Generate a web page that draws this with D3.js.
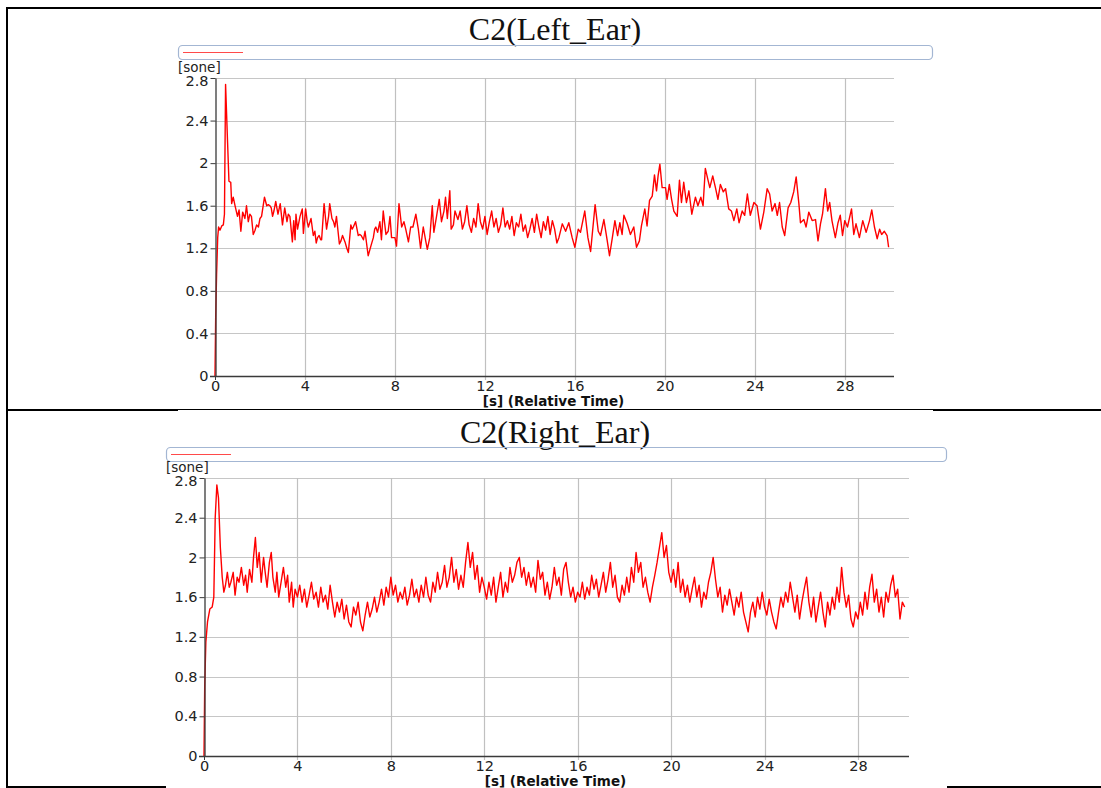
<!DOCTYPE html>
<html>
<head>
<meta charset="utf-8">
<script src="https://cdn.jsdelivr.net/npm/d3@7"></script>
<style>
  body { margin: 0; background: #fff; }
  text { font-family: "DejaVu Sans", Verdana, sans-serif; }
</style>
</head>
<body>
<div id="chart"></div>
<script>
// Tick values shared by both panels
const xTicks = [0, 4, 8, 12, 16, 20, 24, 28];
const yTicks = [0, 0.4, 0.8, 1.2, 1.6, 2, 2.4, 2.8];

// Loudness over time, [seconds, sone]
const leftEar = [
  [0,0],[0.03,0.55],[0.07,0.95],[0.12,1.3],[0.16,1.4],[0.22,1.37],[0.3,1.41],[0.37,1.42],[0.42,1.52],[0.47,2.74],
  [0.56,2.19],[0.62,1.83],[0.7,1.82],[0.74,1.62],[0.81,1.68],[0.89,1.6],[1.0,1.5],[1.07,1.56],[1.15,1.36],[1.23,1.54],
  [1.33,1.48],[1.4,1.6],[1.48,1.45],[1.55,1.52],[1.62,1.5],[1.7,1.33],[1.78,1.37],[1.85,1.42],[1.93,1.4],[2.0,1.48],
  [2.07,1.5],[2.2,1.68],[2.3,1.6],[2.37,1.61],[2.44,1.6],[2.5,1.58],[2.56,1.5],[2.62,1.55],[2.7,1.64],[2.75,1.58],
  [2.8,1.52],[2.9,1.62],[3.0,1.42],[3.1,1.58],[3.2,1.45],[3.26,1.52],[3.33,1.5],[3.44,1.26],[3.5,1.46],[3.56,1.28],
  [3.6,1.52],[3.67,1.38],[3.78,1.5],[3.88,1.57],[3.93,1.34],[4.03,1.57],[4.1,1.45],[4.15,1.4],[4.27,1.48],[4.37,1.32],
  [4.44,1.36],[4.5,1.25],[4.56,1.3],[4.63,1.32],[4.7,1.28],[4.74,1.28],[4.85,1.62],[4.96,1.38],[5.05,1.5],[5.1,1.62],
  [5.2,1.48],[5.27,1.45],[5.33,1.4],[5.4,1.5],[5.53,1.24],[5.6,1.27],[5.67,1.32],[5.78,1.26],[5.86,1.2],[5.93,1.16],
  [6.04,1.42],[6.1,1.38],[6.15,1.4],[6.25,1.45],[6.37,1.32],[6.43,1.33],[6.5,1.32],[6.6,1.28],[6.67,1.36],[6.81,1.13],
  [6.93,1.22],[7.04,1.3],[7.1,1.38],[7.15,1.4],[7.23,1.35],[7.33,1.45],[7.4,1.28],[7.48,1.55],[7.6,1.33],[7.7,1.36],
  [7.78,1.5],[7.85,1.3],[8.0,1.3],[8.07,1.22],[8.18,1.62],[8.3,1.4],[8.4,1.45],[8.48,1.38],[8.6,1.26],[8.7,1.4],
  [8.8,1.4],[8.93,1.52],[9.04,1.38],[9.14,1.2],[9.26,1.4],[9.36,1.28],[9.44,1.19],[9.55,1.3],[9.66,1.6],[9.73,1.35],
  [9.85,1.5],[9.97,1.66],[10.07,1.45],[10.18,1.55],[10.25,1.68],[10.33,1.48],[10.44,1.74],[10.5,1.38],[10.6,1.42],[10.67,1.55],
  [10.8,1.47],[10.9,1.55],[11.0,1.38],[11.1,1.45],[11.2,1.6],[11.3,1.42],[11.4,1.35],[11.5,1.48],[11.6,1.4],[11.7,1.62],
  [11.8,1.45],[11.9,1.38],[12.0,1.5],[12.1,1.33],[12.2,1.45],[12.3,1.55],[12.4,1.4],[12.5,1.48],[12.6,1.35],[12.7,1.42],
  [12.8,1.58],[12.9,1.4],[13.0,1.46],[13.1,1.38],[13.2,1.5],[13.3,1.32],[13.4,1.44],[13.5,1.4],[13.6,1.52],[13.7,1.36],
  [13.8,1.42],[13.9,1.3],[14.0,1.38],[14.1,1.48],[14.2,1.35],[14.3,1.52],[14.4,1.4],[14.5,1.3],[14.6,1.45],[14.7,1.37],
  [14.8,1.5],[14.9,1.33],[15.0,1.46],[15.1,1.38],[15.2,1.25],[15.29,1.3],[15.44,1.43],[15.59,1.36],[15.73,1.44],[15.88,1.3],
  [16.0,1.21],[16.15,1.38],[16.25,1.35],[16.44,1.55],[16.58,1.3],[16.7,1.17],[16.9,1.61],[17.04,1.36],[17.14,1.32],[17.29,1.47],
  [17.44,1.27],[17.54,1.13],[17.66,1.29],[17.78,1.46],[17.9,1.32],[18.0,1.44],[18.1,1.33],[18.18,1.51],[18.33,1.43],[18.47,1.33],
  [18.62,1.4],[18.74,1.21],[18.87,1.27],[18.96,1.41],[19.11,1.57],[19.21,1.41],[19.32,1.65],[19.44,1.69],[19.54,1.89],[19.63,1.74],
  [19.7,1.88],[19.78,1.99],[19.88,1.77],[20.03,1.77],[20.1,1.66],[20.2,1.8],[20.3,1.66],[20.4,1.55],[20.55,1.5],[20.65,1.84],
  [20.74,1.63],[20.84,1.82],[20.96,1.63],[21.07,1.74],[21.2,1.52],[21.36,1.68],[21.47,1.6],[21.6,1.68],[21.7,1.6],[21.8,1.95],
  [21.92,1.84],[22.0,1.77],[22.13,1.88],[22.25,1.77],[22.36,1.66],[22.47,1.8],[22.6,1.73],[22.7,1.76],[22.84,1.57],[22.96,1.55],
  [23.07,1.46],[23.2,1.57],[23.3,1.44],[23.44,1.55],[23.55,1.51],[23.67,1.71],[23.8,1.51],[23.96,1.63],[24.1,1.6],[24.25,1.38],
  [24.4,1.54],[24.55,1.76],[24.66,1.71],[24.77,1.55],[24.9,1.62],[25.0,1.51],[25.1,1.63],[25.22,1.4],[25.33,1.32],[25.48,1.58],
  [25.6,1.63],[25.73,1.73],[25.84,1.87],[25.96,1.62],[26.03,1.44],[26.18,1.47],[26.28,1.4],[26.4,1.54],[26.55,1.46],[26.7,1.47],
  [26.81,1.27],[26.92,1.43],[27.01,1.52],[27.14,1.76],[27.24,1.55],[27.33,1.63],[27.43,1.46],[27.58,1.3],[27.7,1.44],[27.8,1.51],
  [27.9,1.32],[28.0,1.46],[28.12,1.4],[28.3,1.57],[28.4,1.33],[28.5,1.43],[28.65,1.3],[28.8,1.46],[28.95,1.35],[29.1,1.46],
  [29.2,1.56],[29.32,1.4],[29.44,1.29],[29.55,1.38],[29.64,1.33],[29.76,1.36],[29.88,1.32],[29.95,1.21]
];

const rightEar = [
  [0,0],[0.03,0.7],[0.08,1.15],[0.15,1.35],[0.25,1.48],[0.35,1.5],[0.42,1.6],[0.48,2.4],[0.55,2.73],[0.62,2.6],
  [0.7,2.1],[0.78,1.8],[0.85,1.65],[0.92,1.72],[1.0,1.85],[1.08,1.7],[1.15,1.75],[1.25,1.85],[1.33,1.62],[1.42,1.8],
  [1.5,1.75],[1.6,1.9],[1.7,1.72],[1.78,1.82],[1.85,1.65],[1.95,1.88],[2.05,1.75],[2.12,2.0],[2.2,2.2],[2.28,1.9],
  [2.36,2.05],[2.45,1.75],[2.55,2.0],[2.62,1.85],[2.7,1.7],[2.8,1.95],[2.88,2.05],[2.95,1.8],[3.05,1.65],[3.12,1.85],
  [3.2,1.6],[3.3,1.75],[3.4,1.9],[3.5,1.7],[3.58,1.82],[3.65,1.55],[3.75,1.75],[3.82,1.5],[3.9,1.68],[4.0,1.6],
  [4.1,1.72],[4.2,1.55],[4.3,1.68],[4.4,1.5],[4.5,1.62],[4.6,1.75],[4.7,1.58],[4.8,1.65],[4.9,1.5],[5.0,1.7],
  [5.1,1.55],[5.2,1.62],[5.3,1.48],[5.4,1.72],[5.5,1.55],[5.6,1.4],[5.7,1.55],[5.8,1.45],[5.9,1.58],[6.0,1.38],
  [6.1,1.52],[6.2,1.35],[6.3,1.3],[6.4,1.5],[6.5,1.42],[6.6,1.55],[6.7,1.35],[6.8,1.26],[6.9,1.42],[7.0,1.55],
  [7.1,1.4],[7.2,1.48],[7.3,1.6],[7.4,1.45],[7.5,1.55],[7.6,1.68],[7.7,1.52],[7.8,1.7],[7.9,1.6],[8.0,1.8],
  [8.1,1.62],[8.2,1.72],[8.3,1.55],[8.4,1.65],[8.5,1.58],[8.6,1.7],[8.7,1.52],[8.8,1.62],[8.9,1.78],[9.0,1.6],
  [9.1,1.68],[9.2,1.55],[9.3,1.72],[9.4,1.6],[9.5,1.8],[9.6,1.62],[9.7,1.55],[9.8,1.75],[9.9,1.65],[10.0,1.85],
  [10.1,1.68],[10.2,1.75],[10.3,1.92],[10.4,1.7],[10.5,1.8],[10.6,2.0],[10.7,1.75],[10.8,1.88],[10.9,1.68],[11.0,1.82],
  [11.1,1.7],[11.2,1.95],[11.3,2.15],[11.4,1.9],[11.5,2.05],[11.6,1.78],[11.7,1.92],[11.8,1.65],[11.9,1.8],[12.0,1.7],
  [12.1,1.58],[12.2,1.75],[12.3,1.62],[12.4,1.8],[12.5,1.55],[12.6,1.7],[12.7,1.85],[12.8,1.6],[12.9,1.75],[13.0,1.65],
  [13.1,1.9],[13.2,1.75],[13.3,1.82],[13.4,1.95],[13.5,2.0],[13.6,1.8],[13.7,1.9],[13.8,1.72],[13.9,1.85],[14.0,1.7],
  [14.1,1.8],[14.2,1.65],[14.3,1.97],[14.4,1.78],[14.5,1.85],[14.6,1.62],[14.7,1.75],[14.8,1.58],[14.9,1.7],[15.0,1.9],
  [15.1,1.72],[15.2,1.8],[15.3,1.62],[15.4,1.88],[15.5,1.95],[15.6,1.75],[15.7,1.6],[15.8,1.7],[15.9,1.55],[16.0,1.65],
  [16.1,1.6],[16.2,1.75],[16.3,1.58],[16.4,1.7],[16.5,1.62],[16.6,1.82],[16.7,1.68],[16.8,1.78],[16.9,1.6],[17.0,1.72],
  [17.1,1.85],[17.2,1.65],[17.3,1.78],[17.4,1.95],[17.5,1.7],[17.6,1.82],[17.7,1.6],[17.8,1.55],[17.9,1.72],[18.0,1.62],
  [18.1,1.8],[18.2,1.65],[18.3,1.9],[18.4,1.75],[18.5,2.05],[18.6,1.85],[18.7,1.95],[18.8,1.7],[18.9,1.8],[19.0,1.65],
  [19.1,1.55],[19.2,1.7],[19.3,1.82],[19.4,1.95],[19.5,2.1],[19.6,2.25],[19.7,2.0],[19.8,2.12],[19.9,1.85],[20.0,1.75],
  [20.1,1.88],[20.2,1.7],[20.3,1.95],[20.4,1.65],[20.5,1.78],[20.6,1.6],[20.7,1.72],[20.8,1.55],[20.9,1.68],[21.0,1.8],
  [21.1,1.6],[21.2,1.72],[21.3,1.5],[21.4,1.65],[21.5,1.58],[21.6,1.75],[21.7,1.85],[21.8,2.0],[21.9,1.78],[22.0,1.6],
  [22.1,1.7],[22.2,1.45],[22.3,1.62],[22.4,1.52],[22.5,1.68],[22.6,1.55],[22.7,1.42],[22.8,1.6],[22.9,1.5],[23.0,1.65],
  [23.1,1.45],[23.2,1.35],[23.3,1.25],[23.4,1.45],[23.5,1.55],[23.6,1.4],[23.7,1.6],[23.8,1.48],[23.9,1.65],[24.0,1.5],
  [24.1,1.42],[24.2,1.58],[24.3,1.45],[24.4,1.35],[24.5,1.28],[24.6,1.45],[24.7,1.6],[24.8,1.5],[24.9,1.65],[25.0,1.55],
  [25.1,1.75],[25.2,1.6],[25.3,1.45],[25.4,1.62],[25.5,1.38],[25.6,1.55],[25.7,1.68],[25.8,1.8],[25.9,1.55],[26.0,1.4],
  [26.1,1.6],[26.2,1.35],[26.3,1.5],[26.4,1.65],[26.5,1.45],[26.6,1.3],[26.7,1.55],[26.8,1.42],[26.9,1.6],[27.0,1.48],
  [27.1,1.7],[27.2,1.55],[27.3,1.9],[27.4,1.65],[27.5,1.5],[27.6,1.62],[27.7,1.38],[27.8,1.3],[27.9,1.45],[28.0,1.38],
  [28.1,1.55],[28.2,1.42],[28.3,1.65],[28.4,1.48],[28.5,1.7],[28.6,1.83],[28.7,1.55],[28.8,1.68],[28.9,1.45],[29.0,1.6],
  [29.1,1.4],[29.2,1.65],[29.3,1.55],[29.4,1.72],[29.5,1.82],[29.6,1.6],[29.7,1.68],[29.8,1.38],[29.9,1.55],[30.0,1.5]
];

const W = 1101, H = 788;

const svg = d3.select("#chart")
  .append("svg")
  .attr("width", W)
  .attr("height", H);

// Table borders of the page the charts sit in
const border = svg.append("g").attr("fill", "#000");
border.append("rect").attr("x", 6).attr("y", 7).attr("width", W - 6).attr("height", 2);
border.append("rect").attr("x", 6).attr("y", 7).attr("width", 2).attr("height", H - 7);
border.append("rect").attr("x", 6).attr("y", 409).attr("width", 172).attr("height", 2);
border.append("rect").attr("x", 178).attr("y", 409).attr("width", 755).attr("height", 1);
border.append("rect").attr("x", 933).attr("y", 409).attr("width", W - 933).attr("height", 2);
border.append("rect").attr("x", 6).attr("y", 786).attr("width", 160).attr("height", 2);
border.append("rect").attr("x", 947).attr("y", 786).attr("width", W - 947).attr("height", 2);

function drawPanel(opt) {
  const g = svg.append("g");

  const x = d3.scaleLinear().domain([0, 30.1]).range([opt.left, opt.right]);
  const y = d3.scaleLinear().domain([0, 2.8]).range([opt.bottom, opt.top]);

  // Title
  g.append("text")
    .attr("x", 555)
    .attr("y", opt.titleY)
    .attr("text-anchor", "middle")
    .style("font-family", "'Liberation Serif', 'Times New Roman', serif")
    .style("font-size", "32px")
    .attr("fill", "#111")
    .text(opt.title);

  // Legend frame with the series swatch
  g.append("rect")
    .attr("x", opt.legend[0] + 0.5)
    .attr("y", opt.legend[1] + 0.5)
    .attr("width", opt.legend[2] - opt.legend[0])
    .attr("height", 14)
    .attr("rx", 4)
    .attr("fill", "none")
    .attr("stroke", "#a3b6d3")
    .attr("stroke-width", 1.2);

  g.append("line")
    .attr("x1", opt.legend[0] + 5)
    .attr("x2", opt.legend[0] + 65)
    .attr("y1", opt.legend[1] + 7.5)
    .attr("y2", opt.legend[1] + 7.5)
    .attr("stroke", "#ff4a4a")
    .attr("stroke-width", 1.2);

  // Unit label
  g.append("text")
    .attr("x", opt.legend[0])
    .attr("y", opt.top - 6)
    .style("font-size", "13.5px")
    .attr("fill", "#222")
    .text("[sone]");

  // Grid
  g.append("g")
    .selectAll("line")
    .data(yTicks.slice(1))
    .join("line")
    .attr("x1", opt.left)
    .attr("x2", opt.right + 2)
    .attr("y1", d => Math.round(y(d)) + 0.5)
    .attr("y2", d => Math.round(y(d)) + 0.5)
    .attr("stroke", "#c6c6c6")
    .attr("stroke-width", 1.2);

  g.append("g")
    .selectAll("line")
    .data(xTicks.slice(1))
    .join("line")
    .attr("x1", d => Math.round(x(d)) + 0.5)
    .attr("x2", d => Math.round(x(d)) + 0.5)
    .attr("y1", opt.top)
    .attr("y2", opt.bottom + 4)
    .attr("stroke", "#c0c0c0")
    .attr("stroke-width", 1.2);

  // Series line
  const line = d3.line()
    .x(d => x(d[0]))
    .y(d => y(d[1]));

  g.append("path")
    .datum(opt.data)
    .attr("fill", "none")
    .attr("stroke", "#ff0000")
    .attr("stroke-width", 1.4)
    .attr("stroke-linejoin", "round")
    .attr("d", line);

  // Y axis
  const yAxis = g.append("g")
    .attr("transform", `translate(${opt.left + 0.5},0)`)
    .call(d3.axisLeft(y).tickValues(yTicks).tickFormat(d3.format("~g")).tickSize(5).tickSizeOuter(0))
    .call(a => a.select(".domain").attr("stroke", "#3a3a3a").attr("stroke-width", 1.3));
  yAxis.selectAll(".tick line").attr("stroke", "#3a3a3a");
  yAxis.selectAll(".tick text")
    .attr("x", -7)
    .attr("y", d => d === 2.8 ? 3 : 0)
    .style("font-family", "'DejaVu Sans', Verdana, sans-serif")
    .style("font-size", "14.5px")
    .attr("fill", "#222");

  // X axis
  const xAxis = g.append("g")
    .attr("transform", `translate(0,${opt.bottom + 0.5})`)
    .call(d3.axisBottom(x).tickValues(xTicks).tickSize(0).tickSizeOuter(0))
    .call(a => a.select(".domain").attr("stroke", "#3a3a3a").attr("stroke-width", 1.3));
  xAxis.select(".domain").attr("d", `M${opt.left - 5},0H${opt.right + 2}`);
  xAxis.selectAll(".tick text")
    .attr("dy", "0.9em")
    .attr("y", 1)
    .style("font-family", "'DejaVu Sans', Verdana, sans-serif")
    .style("font-size", "14.5px")
    .attr("fill", "#222");

  // Small dark tick at the origin
  g.append("line")
    .attr("x1", opt.left + 0.5)
    .attr("x2", opt.left + 0.5)
    .attr("y1", opt.bottom)
    .attr("y2", opt.bottom + 4)
    .attr("stroke", "#3a3a3a");

  // Axis title
  g.append("text")
    .attr("x", (opt.left + opt.right) / 2)
    .attr("y", opt.bottom + 30)
    .attr("text-anchor", "middle")
    .style("font-size", "13.5px")
    .style("font-weight", "bold")
    .attr("fill", "#111")
    .text("[s] (Relative Time)");
}

drawPanel({
  title: "C2(Left_Ear)",
  titleY: 40,
  legend: [178, 45, 932],
  left: 215, right: 892, top: 78, bottom: 376,
  data: leftEar
});

drawPanel({
  title: "C2(Right_Ear)",
  titleY: 443,
  legend: [166, 447, 946],
  left: 204, right: 907, top: 478, bottom: 756,
  data: rightEar
});
</script>
</body>
</html>
